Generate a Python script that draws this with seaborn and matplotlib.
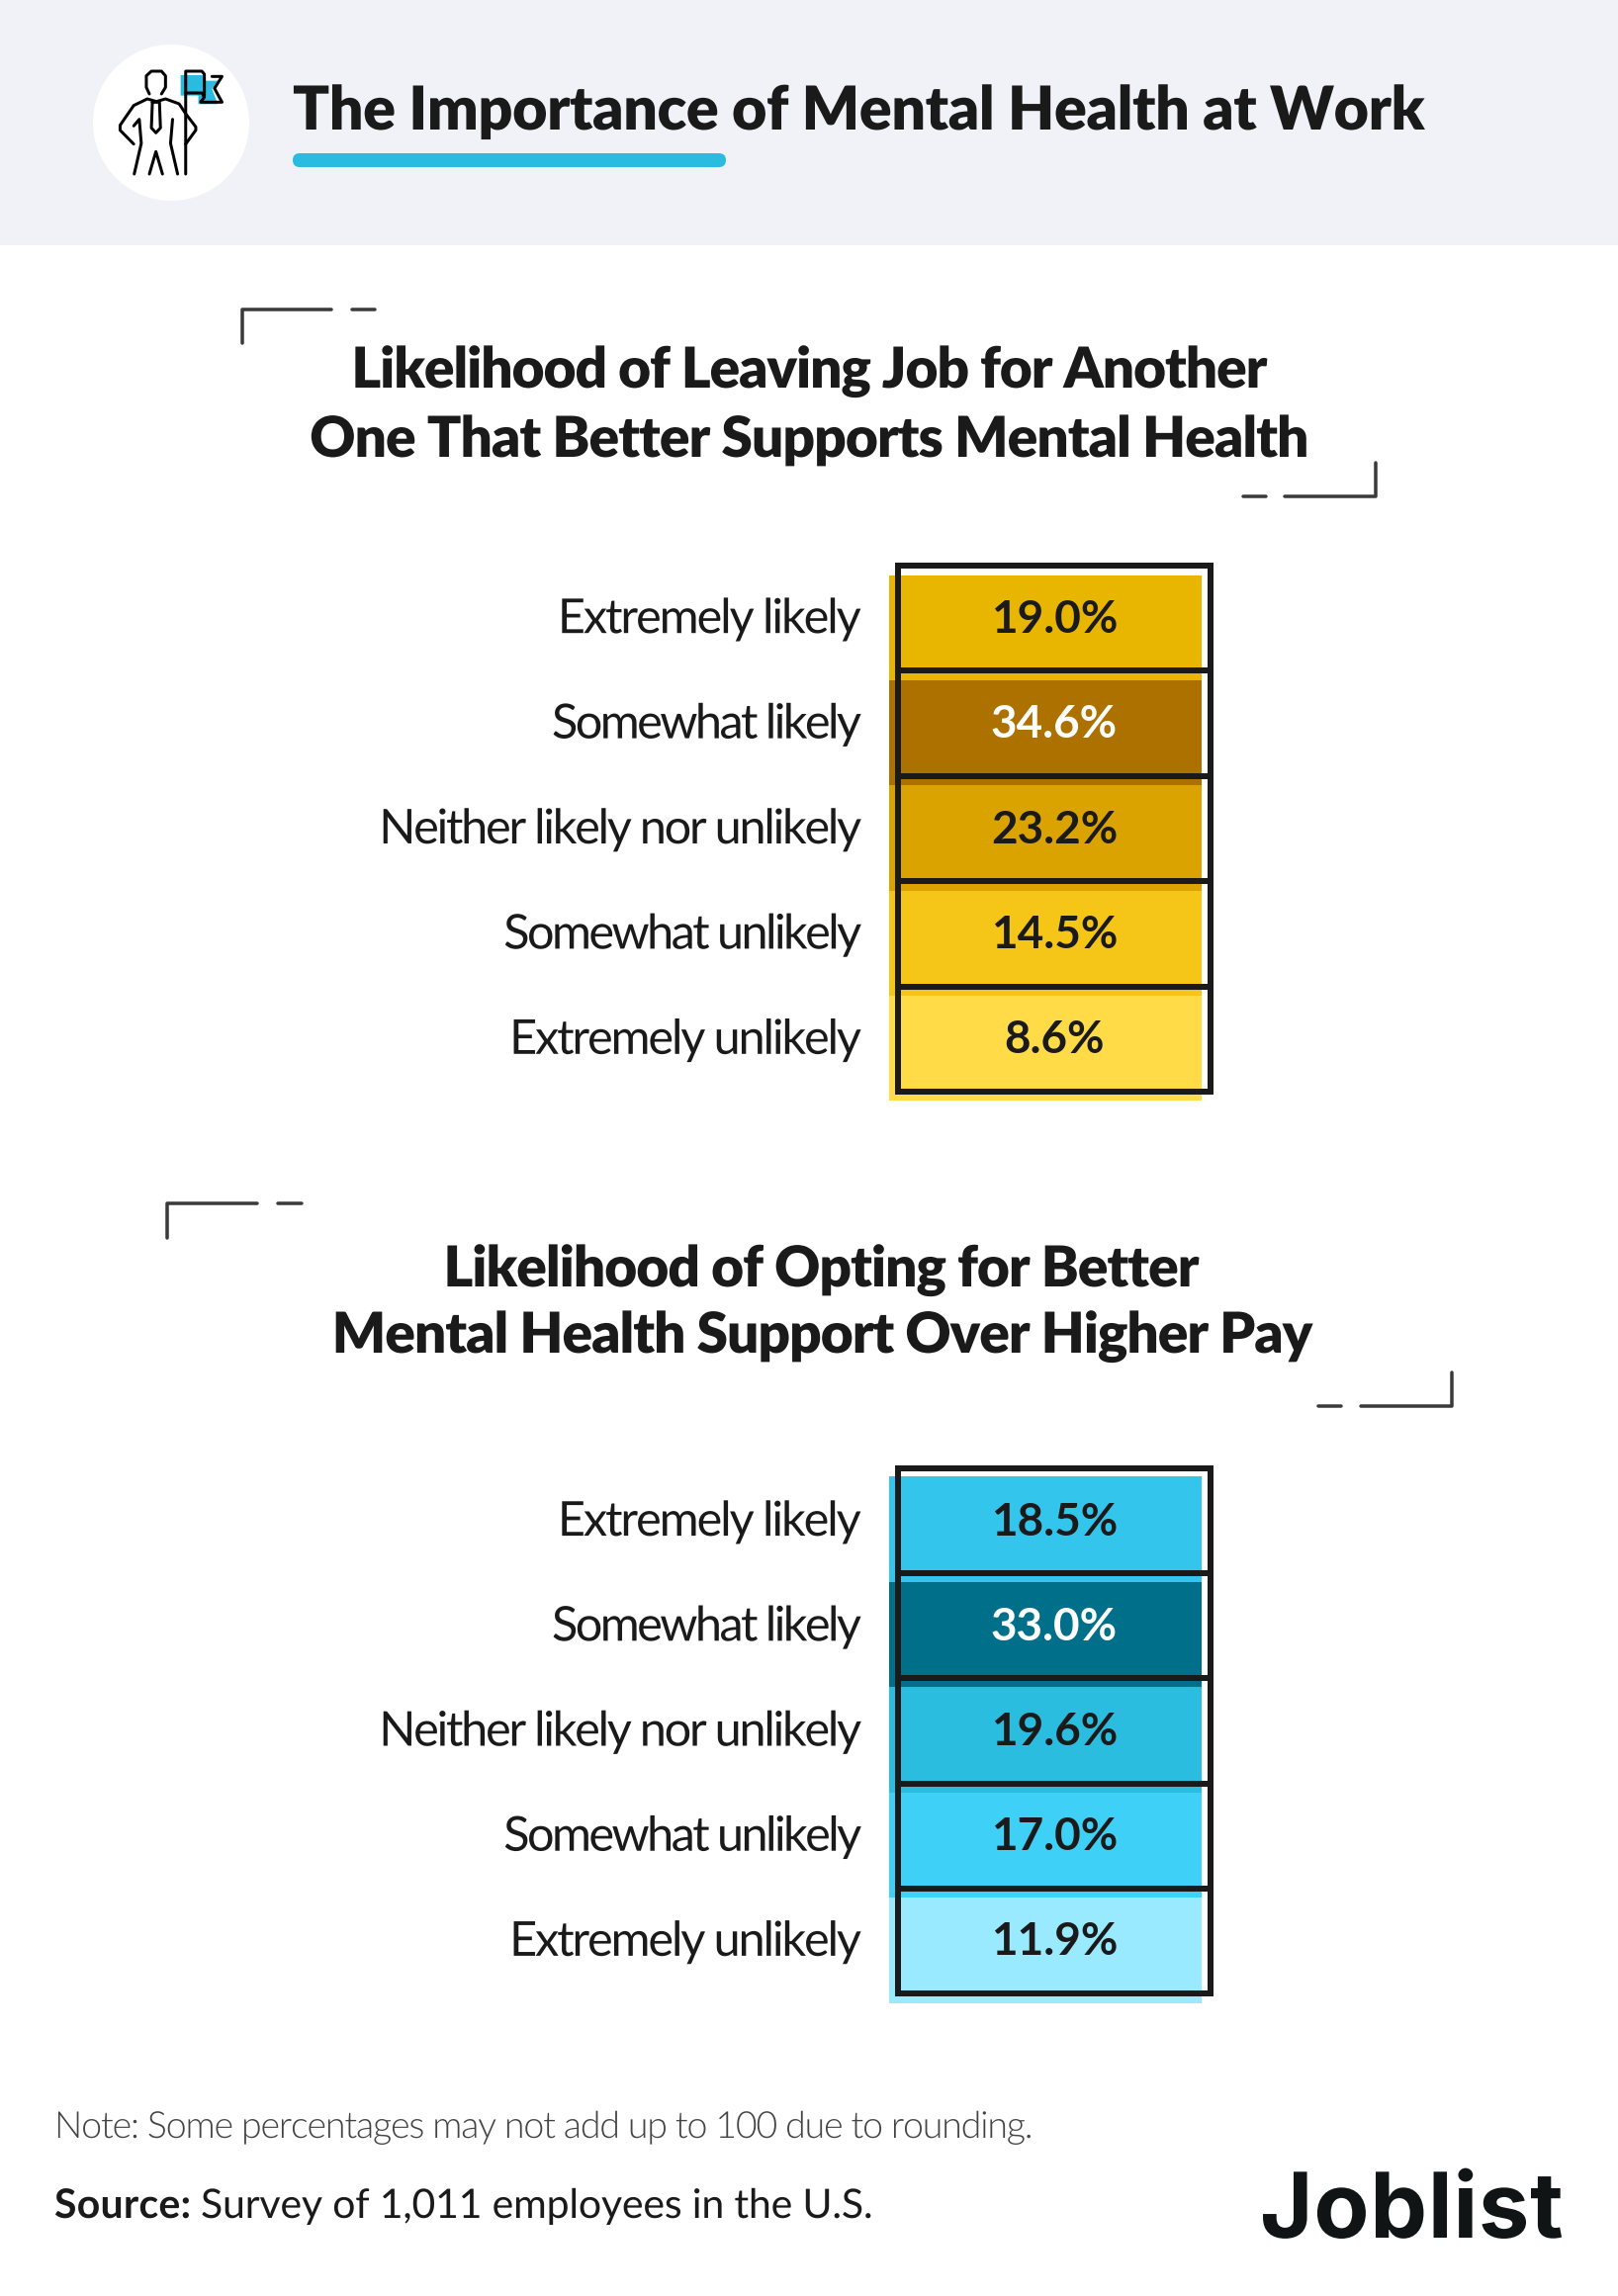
import matplotlib
matplotlib.use("Agg")
import matplotlib.pyplot as plt
import matplotlib.patheffects as pe
from matplotlib.colors import LinearSegmentedColormap, ListedColormap
from matplotlib.patches import Ellipse, FancyBboxPatch, Polygon
from matplotlib.path import Path
from matplotlib.transforms import IdentityTransform
import numpy as np
import pandas as pd
import seaborn as sns

W, H = 1636, 2322
INK = "#1a1a1a"

answers = ["Extremely likely", "Somewhat likely", "Neither likely nor unlikely",
           "Somewhat unlikely", "Extremely unlikely"]
leave_job = [19.0, 34.6, 23.2, 14.5, 8.6]
better_support = [18.5, 33.0, 19.6, 17.0, 11.9]
leave_colors = ["#E8B500", "#AD7100", "#DBA300", "#F5C518", "#FFDB47"]
support_colors = ["#33C5EC", "#006F8A", "#2ABDE0", "#3ED0F7", "#99E9FF"]

page_title = "The Importance of Mental Health at Work"
leave_title = ["Likelihood of Leaving Job for Another",
               "One That Better Supports Mental Health"]
support_title = ["Likelihood of Opting for Better",
                 "Mental Health Support Over Higher Pay"]
note = "Note: Some percentages may not add up to 100 due to rounding."
source_head = "Source:"
source_body = "Survey of 1,011 employees in the U.S."

# rendered widths in the original, which is set with tight tracking
label_widths = [302, 311, 483, 360, 351]


class Tracking(pe.AbstractPathEffect):
    # matplotlib has no letter spacing, so close up the glyphs of the text path
    def __init__(self, width, align, dy=0):
        super().__init__()
        self.width = width
        self.align = align
        self.dy = dy

    def draw_path(self, renderer, gc, tpath, affine, rgbFace=None):
        verts = np.array(affine.transform(tpath.vertices))
        codes = tpath.codes
        starts = np.flatnonzero(codes == Path.MOVETO)
        ends = np.append(starts[1:], len(codes))
        solid = codes != Path.CLOSEPOLY
        spans = []
        for s, e in zip(starts, ends):
            xs = verts[s:e][solid[s:e], 0]
            spans.append((xs.min(), xs.max(), s, e))
        spans.sort()
        left = spans[0][0]
        right = max(sp[1] for sp in spans)
        space_gap = 0.2 * (verts[solid, 1].max() - verts[solid, 1].min())

        # contours that overlap in x belong to one glyph
        steps = []
        step = 0
        reach = spans[0][1]
        for x0, x1, s, e in spans:
            if x0 >= reach - 0.5:
                step += 2 if x0 - reach > space_gap else 1
            steps.append(step)
            reach = max(reach, x1)
        per_step = (right - left - self.width) / max(step, 1)
        if self.align == "left":
            shift = 0
        elif self.align == "right":
            shift = right - left - self.width
        else:
            shift = (right - left - self.width) / 2
        for (x0, x1, s, e), k in zip(spans, steps):
            verts[s:e, 0] += shift - k * per_step
        verts[:, 1] += self.dy
        renderer.draw_path(gc, Path(verts, codes), IdentityTransform(), rgbFace)


def axes_px(x0, y0, x1, y1):
    return fig.add_axes([x0 / W, 1 - y1 / H, (x1 - x0) / W, (y1 - y0) / H])


def pt(px):
    return px * 0.72


def value_cmap(values, colors):
    pairs = sorted(zip(values, colors))
    lo, hi = pairs[0][0], pairs[-1][0]
    return LinearSegmentedColormap.from_list(
        "vals", [((v - lo) / (hi - lo), c) for v, c in pairs], N=1024)


def draw_chart(values, colors, color_box, grid_box):
    table = pd.DataFrame({"share": values}, index=answers)

    # coloured cells sit offset from the black grid
    ax = axes_px(*color_box)
    sns.heatmap(table, ax=ax, cmap=value_cmap(values, colors), cbar=False,
                xticklabels=False, yticklabels=False)
    ax.set_ylabel("")

    grid = axes_px(*grid_box)
    grid.patch.set_alpha(0)
    annot = np.array([[f"{v:.1f}%"] for v in values])
    sns.heatmap(table, ax=grid, cmap=ListedColormap([(0, 0, 0, 0)]), cbar=False,
                annot=annot, fmt="", xticklabels=False,
                annot_kws={"fontsize": 33, "fontweight": 700, "color": INK})
    for t, v in zip(grid.texts, values):
        t.set_color("white" if v == max(values) else INK)
        t.set_y(t.get_position()[1] + 0.015)
    for y in range(1, len(values)):
        grid.axhline(y, color=INK, lw=pt(6))
    for side in grid.spines.values():
        side.set_visible(True)
        side.set_color(INK)
        side.set_linewidth(pt(6))
    grid.set_ylabel("")
    grid.tick_params(axis="y", length=0, pad=pt(grid_box[0] - 871))
    grid.set_yticklabels(answers, rotation=0, fontsize=35, color=INK)
    for lab, width in zip(grid.get_yticklabels(), label_widths):
        lab.set_path_effects([Tracking(width, "right", dy=-1)])


sns.set_theme(style="white")
plt.rcParams["font.family"] = ["Lato", "DejaVu Sans"]

fig = plt.figure(figsize=(W / 100, H / 100), dpi=100, facecolor="white")

page = fig.add_axes([0, 0, 1, 1])
page.set_xlim(0, W)
page.set_ylim(H, 0)
page.axis("off")

# header band
page.fill_between([0, W], 0, 248, color="#F0F2F7", lw=0)
page.add_patch(Ellipse((173, 124), 158, 158, color="white", lw=0))
page.add_patch(FancyBboxPatch((296, 155), 438, 14, boxstyle="round,pad=0,rounding_size=7",
                              fc="#29BBE0", ec="none", lw=0))


# icon points are read in the stretched crop of the header
def icon(points):
    pts = np.array(points, dtype=float)
    return pts[:, 0] / 1.96, pts[:, 1] / 3


flag_x, flag_y = icon([(358, 228), (405, 228), (405, 245), (432, 245), (420, 270), (432, 316),
                       (393, 316), (393, 290), (358, 290)])
page.add_patch(Polygon(np.c_[flag_x, flag_y], fc="#29BBE0", ec="none"))
icon_lines = [
    [(296, 285), (290, 265), (290, 230), (300, 216), (320, 216), (328, 230), (328, 265), (320, 285)],
    [(265, 437), (238, 395), (238, 380), (265, 320), (292, 300), (310, 308), (328, 300), (355, 315),
     (368, 345), (388, 385), (388, 395), (368, 437)],
    [(265, 382), (276, 362), (280, 435), (266, 528)],
    [(342, 362), (338, 435), (352, 528)],
    [(296, 528), (309, 460), (322, 528)],
    [(302, 310), (300, 388), (309, 403), (318, 388), (316, 310), (302, 310)],
    [(368, 528), (368, 216), (400, 216), (405, 225), (405, 290)],
    [(368, 282), (400, 282), (405, 295), (398, 308)],
    [(420, 232), (440, 232), (425, 268), (440, 310), (398, 310)],
]
for pts in icon_lines:
    xs, ys = icon(pts)
    page.plot(xs, ys, color="black", lw=pt(3), solid_joinstyle="round", solid_capstyle="round")

# corner brackets round the two chart titles
line = dict(color="#3a3a3a", lw=pt(3.5), solid_capstyle="round")
page.plot([245, 245, 335], [347, 313, 313], **line)
page.plot([356, 379], [313, 313], **line)
page.plot([1299, 1391, 1391], [502, 502, 468], **line)
page.plot([1257, 1280], [502, 502], **line)
page.plot([169, 169, 260], [1252, 1217, 1217], **line)
page.plot([281, 305], [1217, 1217], **line)
page.plot([1376, 1468, 1468], [1422, 1422, 1388], **line)
page.plot([1333, 1356], [1422, 1422], **line)


def put(x, y, text, size, weight, color, width, align="left", family=None):
    t = page.text(x, y, text, fontsize=size, fontweight=weight, color=color, ha=align, va="baseline",
                  family=family)
    t.set_path_effects([Tracking(width, align)])
    return t


put(296, 131, page_title, 44, 800, INK, 1144)
put(819, 392, leave_title[0], 41, 800, INK, 922, "center")
put(819, 462, leave_title[1], 41, 800, INK, 1006, "center")
put(831, 1301, support_title[0], 41, 800, INK, 760, "center")
put(832, 1368, support_title[1], 41, 800, INK, 988, "center")
put(55, 2162, note, 27, 300, "#444444", 983)
put(55, 2243, source_head, 29.5, 700, INK, 135)
put(203, 2243, source_body, 29.5, 400, INK, 676)
put(1274, 2263, "Joblist", 66, 700, "#101414", 302, family=["Inter", "Lato"])

draw_chart(leave_job, leave_colors, (899, 582, 1215, 1113), (908, 572, 1224, 1104))
draw_chart(better_support, support_colors, (899, 1493, 1215, 2026), (908, 1485, 1224, 2016))

fig.savefig("out.png", dpi=100)
